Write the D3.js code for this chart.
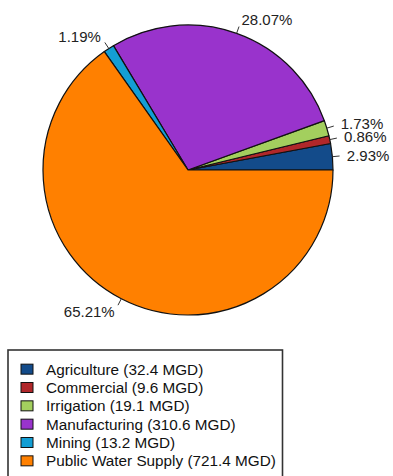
<!DOCTYPE html>
<html><head><meta charset="utf-8">
<script src="https://cdn.jsdelivr.net/npm/d3@7"></script>
<style>body{margin:0;background:#fff}svg{display:block}text{font-family:"Liberation Sans",Arial,sans-serif}</style>
</head><body>
<script>
const categories = ["Agriculture","Commercial","Irrigation","Manufacturing","Mining","Public Water Supply"];
const values = [32.4, 9.6, 19.1, 310.6, 13.2, 721.4];
const pctLabels = ["2.93%","0.86%","1.73%","28.07%","1.19%","65.21%"];
const colors = ["#134b8a","#b0272a","#a3cf5e","#9933cc","#139ed4","#ff8000"];

const W = 393, H = 476;
const svg = d3.select("body").append("svg").attr("width", W).attr("height", H);
const cx = 188, cy = 170, r = 145;
const data = categories.map((c,i)=>({c, v: values[i], col: colors[i], lab: pctLabels[i]}));
// R-style: start at 3 o'clock, counterclockwise
const pie = d3.pie().value(d=>d.v).sort(null).startAngle(Math.PI/2).endAngle(Math.PI/2 - 2*Math.PI);
const arcs = pie(data);
const arc = d3.arc().innerRadius(0).outerRadius(r);
const g = svg.append("g").attr("transform", `translate(${cx},${cy})`);
g.selectAll("path").data(arcs).join("path")
  .attr("d", arc).attr("fill", d=>d.data.col)
  .attr("stroke", "#111").attr("stroke-width", 1.2).attr("stroke-linejoin","round");

arcs.forEach(a=>{
  const m = (a.startAngle + a.endAngle)/2;
  const x = Math.sin(m), y = -Math.cos(m);
  g.append("line").attr("x1", x*r).attr("y1", y*r).attr("x2", x*r*1.05).attr("y2", y*r*1.05)
    .attr("stroke", "#333").attr("stroke-width", 1);
  g.append("text").attr("x", x*r*1.1).attr("y", y*r*1.1).attr("dy", "0.36em")
    .attr("text-anchor", x < 0 ? "end" : "start")
    .attr("font-size", 15).attr("fill", "#222")
    .text(a.data.lab);
});

// legend
const lg = svg.append("g");
lg.append("rect").attr("x", 8).attr("y", 350).attr("width", 274.5).attr("height", 140)
  .attr("fill", "#fff").attr("stroke", "#333").attr("stroke-width", 1.6);
const ly = d3.scaleBand().domain(categories).range([360, 470]);
categories.forEach((c,i)=>{
  const yc = ly(c) + ly.bandwidth()/2;
  lg.append("rect").attr("x", 21).attr("y", yc-5).attr("width", 12).attr("height", 10)
    .attr("fill", colors[i]).attr("stroke", "#111").attr("stroke-width", 1);
  lg.append("text").attr("x", 46).attr("y", yc).attr("dy", "0.36em")
    .attr("font-size", 15.3).attr("fill", "#111")
    .text(`${c} (${values[i]} MGD)`);
});
</script>
</body></html>
